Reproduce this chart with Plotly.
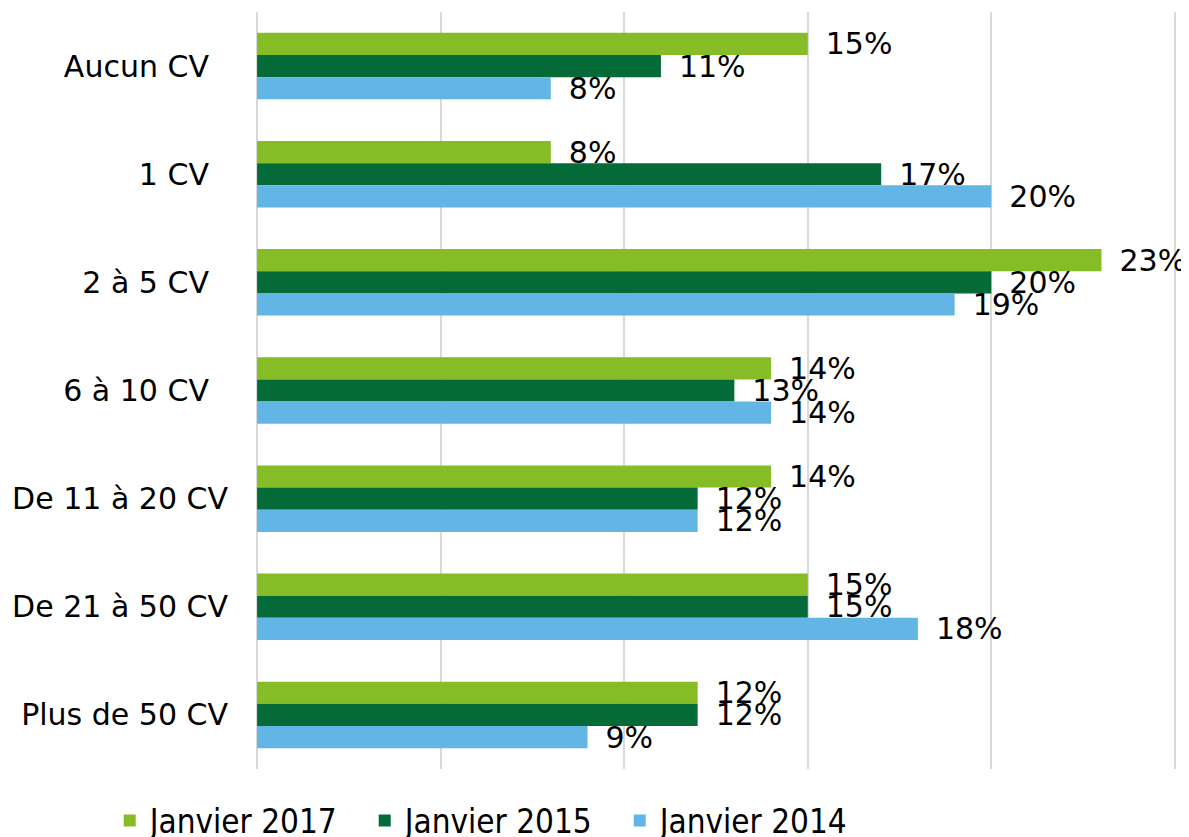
import plotly.graph_objects as go

categories = ["Aucun CV", "1 CV", "2 à 5 CV", "6 à 10 CV",
              "De 11 à 20 CV", "De 21 à 50 CV", "Plus de 50 CV"]
tick_labels = ["Aucun CV\u00a0\u00a0", "1 CV\u00a0\u00a0", "2 à 5 CV\u00a0\u00a0", "6 à 10 CV\u00a0\u00a0",
               "De 11 à 20 CV", "De 21 à 50 CV", "Plus de 50 CV"]
series_names = ["Janvier 2017", "Janvier 2015", "Janvier 2014"]
jan_2017 = [15, 8, 23, 14, 14, 15, 12]
jan_2015 = [11, 17, 20, 13, 12, 15, 12]
jan_2014 = [8, 20, 19, 14, 12, 18, 9]
colors = ["#86BC25", "#046A38", "#62B5E5"]

FONT = "DejaVu Sans, Verdana, sans-serif"
LEGEND_FONT = "DejaVu Sans Condensed, Liberation Sans Narrow, DejaVu Sans, sans-serif"

fig = go.Figure()
for name, vals, col in zip(series_names, [jan_2017, jan_2015, jan_2014], colors):
    fig.add_trace(go.Bar(
        y=categories, x=vals, name=name, orientation="h",
        marker=dict(color=col, line=dict(width=0)),
        text=[f"\u2002{v}%" for v in vals], textposition="outside",
        textfont=dict(family=FONT, size=30, color="#000000"),
        constraintext="none", cliponaxis=False,
        hoverinfo="x+y+name",
    ))

fig.update_layout(
    width=1189, height=837,
    margin=dict(l=248, r=21, t=4, b=76, autoexpand=False),
    paper_bgcolor="white", plot_bgcolor="white",
    barmode="group", bargap=0.385, bargroupgap=0,
    font=dict(family=FONT, size=29, color="#000000"),
    legend=dict(orientation="h", x=-0.159, xanchor="left", y=-0.031, yanchor="top",
                font=dict(family=LEGEND_FONT, size=33, color="#000000"),
                entrywidth=210, entrywidthmode="pixels", itemclick=False),
    showlegend=True,
)
fig.update_xaxes(range=[-0.03, 25.03], tickvals=[0, 5, 10, 15, 20, 25], showticklabels=False,
                 showgrid=True, gridcolor="#d9d9d9", gridwidth=2, zeroline=False, showline=False)
fig.update_yaxes(autorange="reversed", tickvals=categories, ticktext=tick_labels,
                 ticks="", ticklabelstandoff=27, showgrid=False, showline=False,
                 tickfont=dict(family=FONT, size=30, color="#000000"))

fig.write_html("out.html")
